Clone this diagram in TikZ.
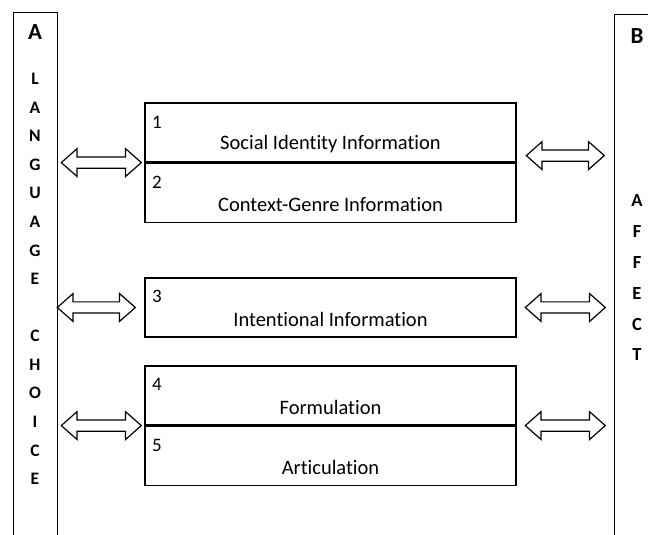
\documentclass[tikz,border=0pt]{standalone}
\usepackage{fontspec}
\setmainfont{Carlito}[Ligatures=NoCommon]
\usetikzlibrary{shapes.arrows,calc,positioning}
\tikzset{
  col/.style={draw, line width=1.2pt, minimum width=44pt, minimum height=540pt, inner sep=0pt},
  colhead/.style={font=\bfseries\fontsize{23}{27}\selectfont, inner sep=0pt},
  infobox/.style={draw, line width=1.2pt, minimum width=371pt, minimum height=59pt, inner sep=0pt},
  num/.style={font=\fontsize{19}{22}\selectfont, inner sep=0pt},
  info/.style={font=\fontsize{20.5}{24}\selectfont, inner sep=0pt},
  dblarrow/.style={draw, double arrow, line width=1.2pt, minimum height=80pt, inner xsep=0pt, inner ysep=5pt,
    text height=0pt, text depth=0pt, double arrow head extend=8.3pt, double arrow tip angle=83},
}
\begin{document}
\begin{tikzpicture}[x=1pt,y=1pt]
\useasboundingbox[fill=white] (0,0) rectangle (648,535);
% side columns
\node[col, anchor=north west] (lang) at (13,523) {};
\node[col, minimum width=60pt, anchor=north west] (affect) at (614,521) {};
\node[colhead] (a) at (35,503) {A};
\node[font=\bfseries\fontsize{17.5}{28.57}\selectfont, align=center, inner sep=0pt] (language) at (35,256) {L\\A\\N\\G\\U\\A\\G\\E\\[28.57pt]C\\H\\O\\I\\C\\E};
\node[colhead] (b) at (637,499) {B};
\node[font=\bfseries\fontsize{18.5}{30.8}\selectfont, align=center, inner sep=0pt] (affecttxt) at (637,257) {A\\F\\F\\E\\C\\T};
% information boxes
\node[infobox] (info1) at (330.5,402.5) {};
\node[infobox] (info2) at (330.5,342) {};
\node[infobox] (info3) at (330.5,227.5) {};
\node[infobox] (info4) at (330.5,139.5) {};
\node[infobox] (info5) at (330.5,79) {};
\node[num] (n1) at ([xshift=12.5pt,yshift=-19.5pt]info1.north west) {1};
\node[info] (t1) at ([yshift=-42pt]info1.north) {Social Identity Information};
\node[num] (n2) at ([xshift=12.5pt,yshift=-19.5pt]info2.north west) {2};
\node[info] (t2) at ([yshift=-42pt]info2.north) {Context-Genre Information};
\node[num] (n3) at ([xshift=12.5pt,yshift=-19.5pt]info3.north west) {3};
\node[info] (t3) at ([yshift=-42pt]info3.north) {Intentional Information};
\node[num] (n4) at ([xshift=12.5pt,yshift=-19.5pt]info4.north west) {4};
\node[info] (t4) at ([yshift=-42pt]info4.north) {Formulation};
\node[num] (n5) at ([xshift=12.5pt,yshift=-19.5pt]info5.north west) {5};
\node[info] (t5) at ([yshift=-42pt]info5.north) {Articulation};
% double arrows
\node[dblarrow] (arrL1) at ($(lang.east |- info1.south)!0.5!(info1.south west)$) {};
\node[dblarrow, xshift=-5pt, minimum height=78pt] (arrL2) at ($(lang.east |- info3)!0.5!(info3.west)$) {};
\node[dblarrow] (arrL3) at ($(lang.east |- info4.south)!0.5!(info4.south west)$) {};
\node[dblarrow, yshift=7pt, minimum height=78pt] (arrR1) at ($(info1.south east)!0.5!(affect.west |- info1.south)$) {};
\node[dblarrow] (arrR2) at ($(info3.east)!0.5!(affect.west |- info3)$) {};
\node[dblarrow] (arrR3) at ($(info4.south east)!0.5!(affect.west |- info4.south)$) {};
\end{tikzpicture}
\end{document}
